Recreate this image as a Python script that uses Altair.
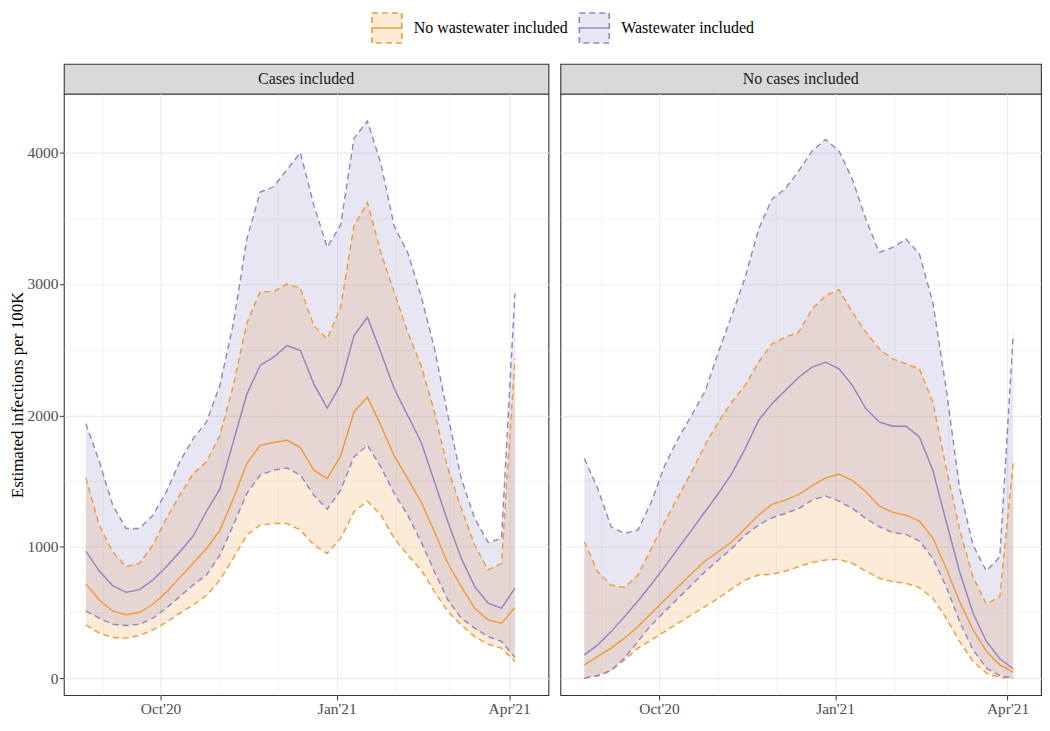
import altair as alt
import pandas as pd

# ---------------- data ----------------
dates = pd.date_range("2020-08-23", periods=33, freq="7D").strftime("%Y-%m-%d").tolist()

series_names = ["No wastewater included", "Wastewater included"]
panel_names = ["Cases included", "No cases included"]

# Panel: Cases included
cases_nww_lower = [405, 342, 309, 304, 324, 367, 425, 494, 557, 628, 747, 912, 1089, 1165, 1177, 1177, 1127,
                   1013, 949, 1063, 1266, 1347, 1241, 1063, 937, 823, 658, 506, 405, 316, 258, 228, 127]
cases_nww_median = [717, 595, 511, 481, 501, 562, 653, 765, 874, 987, 1127, 1367, 1633, 1772, 1793, 1810, 1755,
                    1583, 1519, 1691, 2026, 2139, 1924, 1691, 1519, 1342, 1114, 874, 696, 532, 443, 418, 537]
cases_nww_upper = [1524, 1165, 962, 848, 874, 1013, 1215, 1393, 1557, 1646, 1848, 2228, 2700, 2942, 2942, 3000,
                   2967, 2683, 2582, 2823, 3443, 3620, 3240, 2937, 2633, 2380, 2026, 1595, 1291, 1013, 823, 873, 2430]
cases_ww_lower = [511, 456, 410, 400, 410, 456, 532, 620, 709, 785, 937, 1165, 1405, 1545, 1583, 1600, 1545,
                  1393, 1286, 1431, 1684, 1772, 1608, 1405, 1241, 1038, 810, 595, 456, 380, 316, 279, 157]
cases_ww_median = [967, 815, 704, 653, 673, 747, 848, 960, 1080, 1270, 1440, 1800, 2160, 2380, 2443, 2531, 2493,
                   2240, 2056, 2233, 2607, 2747, 2480, 2203, 2000, 1798, 1494, 1190, 911, 696, 570, 532, 684]
cases_ww_upper = [1937, 1650, 1317, 1139, 1139, 1240, 1418, 1646, 1823, 1950, 2230, 2700, 3340, 3700, 3740, 3870,
                  4000, 3600, 3280, 3450, 4110, 4240, 3920, 3440, 3240, 2910, 2510, 2000, 1519, 1215, 1033, 1063, 2930]

# Panel: No cases included
nocases_nww_lower = [0, 18, 63, 139, 228, 291, 354, 418, 481, 544, 608, 679, 747, 785, 790, 815, 848,
                     881, 899, 904, 873, 815, 760, 734, 722, 689, 608, 456, 279, 127, 38, 5, 0]
nocases_nww_median = [101, 165, 228, 304, 392, 494, 595, 696, 797, 891, 962, 1038, 1139, 1241, 1322, 1355, 1398,
                      1463, 1524, 1552, 1506, 1418, 1311, 1261, 1241, 1195, 1068, 835, 582, 367, 203, 101, 46]
nocases_nww_upper = [1038, 810, 709, 689, 785, 987, 1190, 1380, 1570, 1772, 1950, 2102, 2228, 2405, 2544, 2595,
                     2633, 2810, 2911, 2957, 2785, 2633, 2506, 2430, 2392, 2354, 2100, 1600, 1130, 770, 562, 620, 1650]
nocases_ww_lower = [0, 18, 56, 152, 279, 405, 506, 608, 709, 810, 899, 987, 1089, 1165, 1220, 1253, 1291,
                    1355, 1387, 1347, 1291, 1215, 1152, 1109, 1094, 1043, 911, 696, 430, 215, 76, 18, 0]
nocases_ww_median = [177, 253, 354, 468, 587, 714, 848, 987, 1127, 1266, 1405, 1557, 1747, 1962, 2089, 2190, 2290,
                     2367, 2405, 2354, 2228, 2051, 1950, 1917, 1917, 1836, 1583, 1190, 810, 494, 279, 147, 71]
nocases_ww_upper = [1671, 1443, 1152, 1101, 1127, 1342, 1620, 1823, 2000, 2180, 2481, 2760, 3050, 3418, 3646, 3727,
                    3861, 4013, 4101, 4013, 3797, 3494, 3240, 3278, 3342, 3228, 2861, 2200, 1443, 1013, 815, 924, 2620]

# ---------------- build tables ----------------
def make_df(panel, series, lo, med, up):
    return pd.DataFrame({"date": dates, "panel": panel, "series": series,
                         "lower": lo, "median": med, "upper": up})

panel_data = {
    panel_names[0]: [make_df(panel_names[0], series_names[0], cases_nww_lower, cases_nww_median, cases_nww_upper),
                     make_df(panel_names[0], series_names[1], cases_ww_lower, cases_ww_median, cases_ww_upper)],
    panel_names[1]: [make_df(panel_names[1], series_names[0], nocases_nww_lower, nocases_nww_median, nocases_nww_upper),
                     make_df(panel_names[1], series_names[1], nocases_ww_lower, nocases_ww_median, nocases_ww_upper)],
}

# ---------------- styling ----------------
ORANGE = "#EF9A38"
PURPLE = "#9084C2"
FONT = "Liberation Serif, Times New Roman, Tinos, DejaVu Serif, serif"
color_scale = alt.Scale(domain=series_names, range=[ORANGE, PURPLE])


def ms(s):
    return int(pd.Timestamp(s, tz="UTC").value // 10**6)


x_domains = {
    panel_names[0]: [ms("2020-08-11 12:00"), ms("2021-04-21 12:00")],
    panel_names[1]: [ms("2020-08-10 12:00"), ms("2021-04-18 12:00")],
}
y_scale = alt.Scale(domain=[-129, 4448], nice=False, zero=False)
month_ticks = [ms(d) for d in pd.date_range("2020-09-01", "2021-04-01", freq="MS")]
y_ticks = list(range(0, 4001, 500))

x_major = "utcmonth(datum.value) % 3 === 0"
y_major = "datum.value % 1000 === 0"

x_axis = alt.Axis(values=month_ticks,
                  labelExpr=x_major + " ? utcFormat(datum.value, \"%b'%y\") : ''",
                  grid=True, gridColor="#EBEBEB",
                  gridWidth={"condition": {"test": x_major, "value": 1.1}, "value": 0.55},
                  tickOpacity={"condition": {"test": x_major, "value": 1}, "value": 0},
                  tickSize=5, tickColor="#333333", domain=False,
                  labelFont=FONT, labelFontSize=15.5, labelColor="#4D4D4D", labelPadding=2)


def y_axis(show_labels):
    if show_labels:
        return alt.Axis(values=y_ticks, format="d",
                        labelExpr=y_major + " ? datum.label : ''",
                        grid=True, gridColor="#EBEBEB",
                        gridWidth={"condition": {"test": y_major, "value": 1.1}, "value": 0.55},
                        tickOpacity={"condition": {"test": y_major, "value": 1}, "value": 0},
                        tickSize=4.5, tickColor="#333333", domain=False,
                        labelFont=FONT, labelFontSize=15.5, labelColor="#4D4D4D", labelPadding=1.5,
                        titleFont=FONT, titleFontSize=17, titleFontWeight="normal", titleColor="#000000",
                        titlePadding=0)
    return alt.Axis(values=y_ticks, labels=False, ticks=False, domain=False,
                    grid=True, gridColor="#EBEBEB",
                    gridWidth={"condition": {"test": y_major, "value": 1.1}, "value": 0.55})


def panel_chart(panel, width, show_labels):
    ytitle = "Estimated infections per 100K" if show_labels else None
    yax = y_axis(show_labels)
    x_scale = alt.Scale(type="utc", domain=x_domains[panel], nice=False)
    layers = []
    # ribbons
    for d in panel_data[panel]:
        layers.append(
            alt.Chart(d).mark_area(fillOpacity=0.2, strokeWidth=0).encode(
                x=alt.X("date:T", scale=x_scale, axis=x_axis, title=None),
                y=alt.Y("lower:Q", scale=y_scale, axis=yax, title=ytitle),
                y2="upper:Q",
                fill=alt.Fill("series:N", scale=color_scale, legend=None),
            )
        )
    # lines
    for d in panel_data[panel]:
        for field, dash in [("median", None), ("upper", [6, 4]), ("lower", [6, 4])]:
            if dash:
                mk = alt.Chart(d).mark_line(strokeWidth=1.4, strokeDash=dash)
            else:
                mk = alt.Chart(d).mark_line(strokeWidth=1.4)
            layers.append(
                mk.encode(
                    x=alt.X("date:T", scale=x_scale, axis=x_axis, title=None),
                    y=alt.Y(field + ":Q", scale=y_scale, axis=yax, title=ytitle),
                    stroke=alt.Stroke("series:N", scale=color_scale, legend=None),
                )
            )
    plot = alt.layer(*layers).properties(
        width=width, height=603,
        view=alt.ViewBackground(stroke="#333333", strokeWidth=1.1, fill="white"),
    )
    strip = alt.Chart(pd.DataFrame({"panel": [panel]})).mark_text(
        font=FONT, fontSize=16, color="#1A1A1A"
    ).encode(text="panel:N").properties(
        width=width, height=30,
        view=alt.ViewBackground(fill="#D9D9D9", stroke="#333333", strokeWidth=1.1),
    )
    return alt.vconcat(strip, plot, spacing=0, bounds="flush")


left = panel_chart(panel_names[0], 486, True)
right = panel_chart(panel_names[1], 482, False)
body = alt.hconcat(left, right, spacing=10)

# ---------------- legend ----------------
legend_df = pd.DataFrame({"series": series_names})
leg_x = alt.X("series:N", axis=None,
              scale=alt.Scale(type="point", domain=series_names, range=[324, 532], padding=0))
leg_box = alt.Chart(legend_df).mark_point(
    shape="square", size=900, filled=True, opacity=1, fillOpacity=0.2,
    strokeWidth=1.6, strokeDash=[6, 4], strokeOpacity=1
).encode(
    x=leg_x,
    fill=alt.Fill("series:N", scale=color_scale, legend=None),
    stroke=alt.Stroke("series:N", scale=color_scale, legend=None),
)
leg_line = alt.Chart(legend_df).mark_point(
    shape="M-1,0L1,0", size=900, filled=False, opacity=1, strokeWidth=1.4
).encode(
    x=leg_x,
    stroke=alt.Stroke("series:N", scale=color_scale, legend=None),
)
leg_text = alt.Chart(legend_df).mark_text(
    align="left", dx=27, font=FONT, fontSize=16, color="#000000"
).encode(x=leg_x, text="series:N")
legend = alt.layer(leg_box, leg_line, leg_text).properties(
    width=700, height=30, view=alt.ViewBackground(stroke="transparent")
)

chart = alt.vconcat(legend, body, spacing=16).properties(
    padding=0, background="white"
).configure(font=FONT).configure_view(stroke="transparent")

chart.save("out.html", embed_options={"renderer": "svg", "actions": False})
